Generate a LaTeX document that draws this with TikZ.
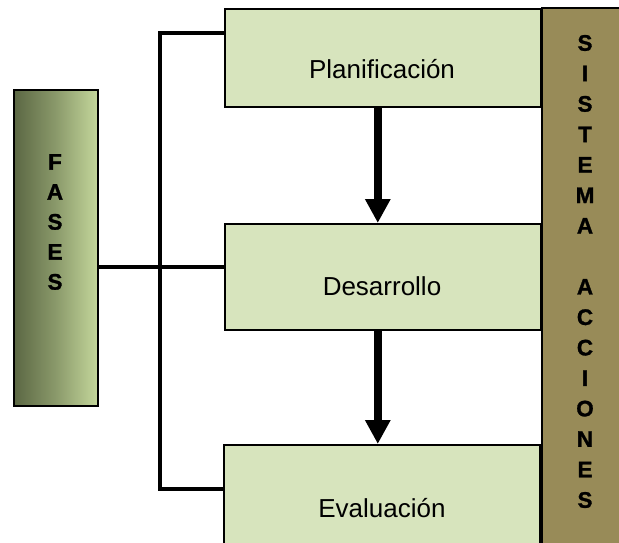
\documentclass[tikz,border=0pt]{standalone}
\usepackage{fontspec}
\setmainfont{Liberation Sans}
\newfontface\heavy{Liberation Sans Bold}[FakeBold=1.2]
\usetikzlibrary{arrows.meta}
\definecolor{boxgreen}{HTML}{D7E4BD}
\definecolor{khaki}{HTML}{988B58}
\definecolor{darkolive}{HTML}{5B6743}
\definecolor{lightolive}{HTML}{C4D79B}
\newcommand{\bigbold}{\heavy\fontsize{22.5}{30}\selectfont}
\newcommand{\bigboldb}{\heavy\fontsize{22.5}{30.47}\selectfont}
\begin{document}
\begin{tikzpicture}[x=1pt,y=-1pt,
  phase/.style={draw=black, line width=1.6pt, fill=boxgreen, minimum width=316pt, inner sep=0pt, anchor=north west},
  lbl/.style={font=\fontsize{26}{30}\selectfont, anchor=base, inner sep=0pt},
  letters/.style={align=center, inner sep=0pt, font=\bigbold},
  conn/.style={line width=4pt, draw=black},
  flow/.style={line width=8pt, draw=black, -{Triangle[width=24pt,length=24pt]}}]
\useasboundingbox (0,0) rectangle (619,543);
\fill[white] (0,0) rectangle (619,543);
% boxes
\node[phase, minimum height=98pt] (pl) at (224,8) {};
\node[phase, minimum height=106pt] (de) at (224,223) {};
\node[phase, minimum height=112pt] (ev) at (223,444) {};
\node[draw=black, line width=1.6pt, fill=khaki, anchor=north west, inner sep=0pt, minimum width=90pt, minimum height=546pt] (sa) at (541,7) {};
\node[draw=black, line width=1.6pt, left color=darkolive, right color=lightolive, middle color=darkolive!55!lightolive, anchor=north west, inner sep=0pt, minimum width=84pt, minimum height=316pt] (fa) at (13,89) {};
% texts
\node[lbl] (plt) at (382,78) {Planificación};
\node[lbl] (det) at (382,295) {Desarrollo};
\node[lbl] (evt) at (382,517) {Evaluación};
\node[letters] (fat) at (55,222) {F\\A\\S\\E\\S};
\node[letters, font=\bigboldb] (sat) at (585,271.5) {S\\I\\S\\T\\E\\M\\A\\~\\A\\C\\C\\I\\O\\N\\E\\S};
% connectors
\coordinate (bk) at (160,0);
\coordinate (ta) at ([yshift=-25pt]pl.north west);
\coordinate (tb) at ([yshift=-45pt]ev.north west);
\draw[conn] (ta) -- (ta -| bk) -- (tb -| bk) -- (tb);
\coordinate (fd) at ([yshift=10pt]de.west);
\draw[conn] (fa.east |- fd) -- (fd);
\draw[flow] ([xshift=-5pt]pl.south) -- ([xshift=-5pt]de.north);
\draw[flow] ([xshift=-5pt]de.south) -- ([xshift=-4pt]ev.north);
\end{tikzpicture}
\end{document}
